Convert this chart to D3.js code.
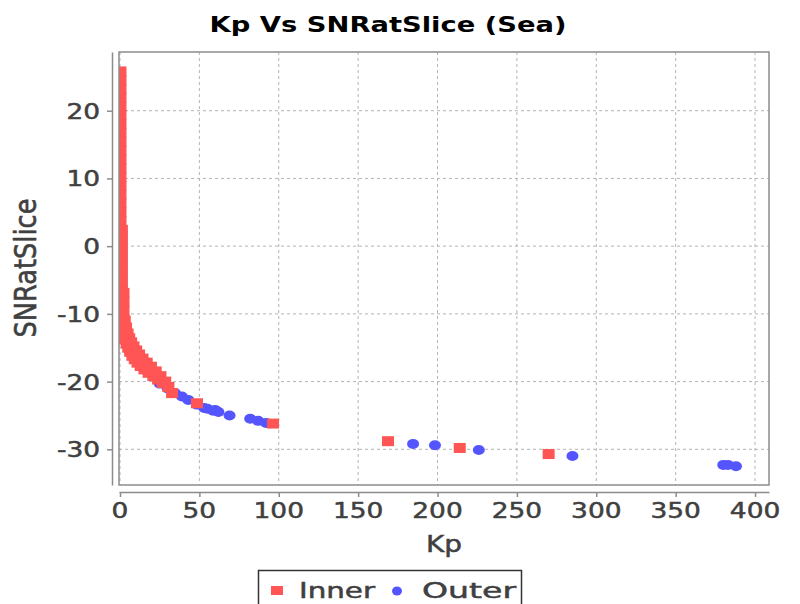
<!DOCTYPE html>
<html lang="en">
<head>
    <meta charset="UTF-8">
    <title>Kp Vs SNRatSlice (Sea)</title>
    <script src="https://d3js.org/d3.v7.min.js"></script>
    <style>
        body{
            margin: 0;
            background-color: #ffffff;
            font-family: 'DejaVu Sans', sans-serif;
        }
    </style>
</head>
<body>
    <div id="chart"></div>

    <script>

        // Inner series (red squares)
        var innerKp = [
            0.3,0.3,0.3,0.3,0.3,0.3,0.3,0.3,0.3,0.3,0.3,0.3,0.3,0.3,0.3,0.3,
            0.3,0.3,0.3,0.3,0.3,0.3,0.3,0.3,0.3,0.3,0.3,0.3,0.3,0.3,0.3,
            1.2,1.2,1.2,1.2,1.2,1.2,1.2,1.2,1.2,1.2,1.2,1.2,1.2,
            2.2,2.2,2.2,2.2,2.2,2.2,
            3.0,3.2,3.8,4.2,4.8,5.2,5.8,6.4,7.0,7.8,8.5,9.3,10.2,11.0,12.0,13.0,
            14.2,15.4,16.8,18.0,19.5,21.0,22.5,24.0,25.5,27.0,28.5,30.5,32.8,
            48.5,96.4,168.8,214,270
        ];
        var innerSnr = [
            25.8,24.5,23.2,21.9,20.6,19.3,18.0,16.7,15.4,14.1,12.8,11.5,10.2,8.9,7.6,6.3,
            5.0,3.7,2.4,1.1,-0.2,-1.5,-2.8,-4.1,-5.4,-6.7,-8.0,-9.3,-10.6,-11.9,-13.1,
            2.4,1.1,-0.2,-1.5,-2.8,-4.1,-5.4,-6.7,-8.0,-9.3,-10.6,-11.9,-13.0,
            -6.9,-8.2,-9.5,-10.8,-12.1,-13.4,
            -11.0,-13.8,-12.0,-14.4,-12.9,-15.0,-13.6,-15.6,-14.2,-16.2,-14.8,-16.7,-15.4,-17.2,-16.0,-17.7,
            -16.6,-18.2,-17.2,-18.7,-17.8,-19.2,-18.5,-19.7,-19.2,-20.2,-20.0,-20.8,-21.7,
            -23.2,-26.2,-28.8,-29.8,-30.7
        ];

        // Outer series (blue circles)
        var outerKp = [
            25,30,34.6,39,43,48.5,53,55,58.6,60,62,69,82,87,92,
            184.6,198.4,226,285,380,383,388
        ];
        var outerSnr = [
            -20.3,-21.0,-21.7,-22.2,-22.7,-23.4,-23.9,-24.0,-24.3,-24.2,-24.5,-25.0,-25.5,-25.8,-26.1,
            -29.2,-29.4,-30.1,-31.0,-32.3,-32.3,-32.5
        ];

        var xTicks = [0,50,100,150,200,250,300,350,400];
        var yTicks = [-30,-20,-10,0,10,20];

        var width = 800, height = 604;
        var plot = {left:119, right:769, top:52, bottom:485};
        var sx = 1.2; // the reference is stretched sideways

        var svg = d3.select("#chart")
            .append("svg")
            .attr("width", width)
            .attr("height", height);

        var xScale = d3.scaleLinear()
            .domain([-0.63, 408.8])
            .range([plot.left, plot.right]);

        var yScale = d3.scaleLinear()
            .domain([-35.27, 28.67])
            .range([plot.bottom, plot.top]);

        // stretched text helper, len forces the width seen in the reference
        function label(x, y, txt, size, anchor, weight, color, rotate, len){
            var t = svg.append("text")
                .attr("transform", "translate(" + x + "," + y + ")" +
                    (rotate ? " rotate(-90) scale(1," + sx + ")" : " scale(" + sx + ",1)"))
                .attr("text-anchor", anchor)
                .attr("font-size", size)
                .attr("font-weight", weight)
                .attr("fill", color)
                .attr("stroke", color)
                .attr("stroke-width", weight == "bold" ? 0 : 0.5)
                .text(txt);
            if(len){
                t.attr("textLength", len / (rotate ? 1 : sx))
                 .attr("lengthAdjust", "spacingAndGlyphs");
            }
            return t;
        }

        //plot background
        svg.append("rect")
            .attr("x", plot.left)
            .attr("y", plot.top)
            .attr("width", plot.right - plot.left)
            .attr("height", plot.bottom - plot.top)
            .attr("fill", "#ffffff");

        //grid
        svg.append("g")
            .selectAll("line")
            .data(xTicks)
            .join("line")
                .attr("x1", function(d){return xScale(d)})
                .attr("x2", function(d){return xScale(d)})
                .attr("y1", plot.top)
                .attr("y2", plot.bottom)
                .attr("stroke", "#b4b4b4")
                .attr("stroke-dasharray", "3,3");

        svg.append("g")
            .selectAll("line")
            .data(yTicks)
            .join("line")
                .attr("y1", function(d){return yScale(d)})
                .attr("y2", function(d){return yScale(d)})
                .attr("x1", plot.left)
                .attr("x2", plot.right)
                .attr("stroke", "#b4b4b4")
                .attr("stroke-dasharray", "3,3");

        //points, clipped to the plot
        svg.append("clipPath")
            .attr("id", "clip")
            .append("rect")
            .attr("x", plot.left)
            .attr("y", plot.top)
            .attr("width", plot.right - plot.left)
            .attr("height", plot.bottom - plot.top);

        var marks = svg.append("g").attr("clip-path", "url(#clip)");

        marks.append("g")
            .selectAll("ellipse")
            .data(outerKp)
            .join("ellipse")
                .attr("cx", function(d){return xScale(d)})
                .attr("cy", function(d,i){return yScale(outerSnr[i])})
                .attr("rx", 6)
                .attr("ry", 5)
                .attr("fill", "#5555ff");

        marks.append("g")
            .selectAll("rect")
            .data(innerKp)
            .join("rect")
                .attr("x", function(d){return xScale(d) - 6})
                .attr("y", function(d,i){return yScale(innerSnr[i]) - 5})
                .attr("width", 12)
                .attr("height", 10)
                .attr("fill", "#ff5555");

        //plot outline
        svg.append("rect")
            .attr("x", plot.left)
            .attr("y", plot.top)
            .attr("width", plot.right - plot.left)
            .attr("height", plot.bottom - plot.top)
            .attr("fill", "none")
            .attr("stroke", "#8c8c8c")
            .attr("stroke-width", 1.5);

        //axes
        svg.append("g")
            .attr("transform", "translate(0,492)")
            .call(d3.axisBottom(xScale).tickValues(xTicks).tickSize(5).tickSizeOuter(0).tickFormat(""));
        svg.append("g")
            .attr("transform", "translate(112,0)")
            .call(d3.axisLeft(yScale).tickValues(yTicks).tickSize(5).tickSizeOuter(0).tickFormat(""));
        svg.selectAll(".domain, .tick line")
            .attr("stroke", "#8c8c8c")
            .attr("stroke-width", 1.5);

        xTicks.forEach(function(d){
            label(xScale(d), 518, d, 22, "middle", "normal", "#404040");
        });
        yTicks.forEach(function(d){
            label(100, yScale(d) + 8, d, 22, "end", "normal", "#404040");
        });

        //titles
        label(388, 32, "Kp Vs SNRatSlice (Sea)", 21, "middle", "bold", "#000000", false, 357);
        label(444, 552, "Kp", 23, "middle", "normal", "#404040", false, 36);
        label(36, 268, "SNRatSlice", 25, "middle", "normal", "#404040", true, 139);

        //legend
        svg.append("rect")
            .attr("x", 258.5)
            .attr("y", 570.5)
            .attr("width", 263)
            .attr("height", 40)
            .attr("fill", "#ffffff")
            .attr("stroke", "#333333")
            .attr("stroke-width", 1.5);
        svg.append("rect")
            .attr("x", 271)
            .attr("y", 586)
            .attr("width", 12)
            .attr("height", 9)
            .attr("fill", "#ff5555");
        label(299, 598, "Inner", 22, "start", "normal", "#404040", false, 76);
        svg.append("ellipse")
            .attr("cx", 397)
            .attr("cy", 591)
            .attr("rx", 5)
            .attr("ry", 4.5)
            .attr("fill", "#5555ff");
        label(422, 598, "Outer", 22, "start", "normal", "#404040", false, 94);

    </script>

</body>
</html>
